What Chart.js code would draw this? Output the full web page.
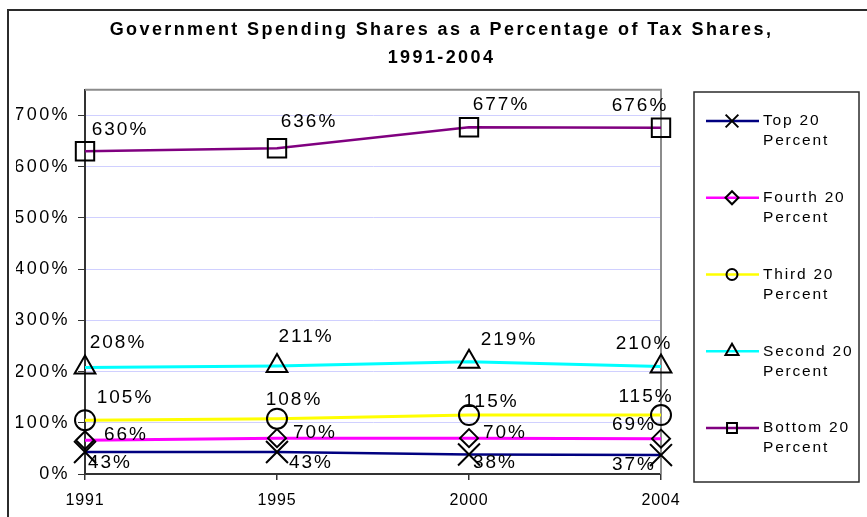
<!DOCTYPE html>
<html>
<head>
<meta charset="utf-8">
<title>Government Spending Shares as a Percentage of Tax Shares, 1991-2004</title>
<script src="https://cdn.jsdelivr.net/npm/chart.js@4.4.1/dist/chart.umd.min.js"></script>
<style>
  html, body { margin: 0; padding: 0; background: #ffffff; }
  canvas { display: block; }
</style>
</head>
<body>
<canvas id="chart" width="867" height="517"></canvas>
<script>
// Years on the horizontal axis
const years = ['1991', '1995', '2000', '2004'];

// Spending share as a percentage of tax share, by income quintile
const top20    = [43, 43, 38, 37];
const fourth20 = [66, 70, 70, 69];
const third20  = [105, 108, 115, 115];
const second20 = [208, 211, 219, 210];
const bottom20 = [630, 636, 677, 676];

// Key entries, two lines each
const quintileNames = [
  ['Top 20', 'Percent'],
  ['Fourth 20', 'Percent'],
  ['Third 20', 'Percent'],
  ['Second 20', 'Percent'],
  ['Bottom 20', 'Percent']
];

// Vertical axis ticks (percent)
const yTickValues = [0, 100, 200, 300, 400, 500, 600, 700];

// Where each value label sits relative to its point (dx, dy in px)
const labelNudges = [
  [[25, 11], [34, 11], [26, 8], [-27, 10]],
  [[41, -5], [38, -5], [36, -5], [-27, -14]],
  [[40, -22], [17, -19], [22, -13], [-15, -18]],
  [[33, -25], [29, -29], [40, -22], [-17, -23]],
  [[35, -22], [32, -26], [32, -22], [-21, -22]]
];

const FONT = '"Liberation Sans", Arial, Helvetica, sans-serif';

function markerSet(style, radius) {
  return {
    pointStyle: style,
    pointRadius: radius,
    pointHoverRadius: radius,
    pointBorderColor: '#000000',
    pointBackgroundColor: 'rgba(0,0,0,0)',
    pointBorderWidth: 2
  };
}

const datasets = [
  Object.assign({ label: quintileNames[0].join(' '), data: top20,    borderColor: '#000080', borderWidth: 2.5, legendRadius: 9 },   markerSet('crossRot', 15.5)),
  Object.assign({ label: quintileNames[1].join(' '), data: fourth20, borderColor: '#ff00ff', borderWidth: 3,   legendRadius: 6.5 }, markerSet('rectRot', 9)),
  Object.assign({ label: quintileNames[2].join(' '), data: third20,  borderColor: '#ffff00', borderWidth: 3,   legendRadius: 5.5 }, markerSet('circle', 10)),
  Object.assign({ label: quintileNames[3].join(' '), data: second20, borderColor: '#00ffff', borderWidth: 3,   legendRadius: 7.5 }, markerSet('triangle', 12)),
  Object.assign({ label: quintileNames[4].join(' '), data: bottom20, borderColor: '#800080', borderWidth: 2.5, legendRadius: 7 },   markerSet('rect', 13))
].map(d => Object.assign(d, { fill: false, tension: 0, clip: false, yAxisID: 'y' }));

// Wider character spacing for canvas text; the year labels are tighter
const letterSpacing = {
  id: 'letterSpacing',
  beforeUpdate(chart) { chart.ctx.letterSpacing = '2.4px'; },
  beforeLayout(chart) { chart.ctx.letterSpacing = '2.4px'; },
  afterLayout(chart) {
    const xs = chart.scales.x;
    if (xs && !xs._tightLabels) {
      const draw = xs.drawLabels.bind(xs);
      xs.drawLabels = function (area) {
        const ctx = chart.ctx;
        ctx.save();
        ctx.letterSpacing = '0.8px';
        draw(area);
        ctx.restore();
      };
      xs._tightLabels = true;
    }
  },
  beforeDraw(chart) { chart.ctx.letterSpacing = '2.4px'; }
};

// White page and the outer frame
const frame = {
  id: 'frame',
  beforeDraw(chart) {
    const ctx = chart.ctx;
    ctx.save();
    ctx.fillStyle = '#ffffff';
    ctx.fillRect(0, 0, chart.width, chart.height);
    ctx.strokeStyle = '#2b2b2b';
    ctx.lineWidth = 2;
    ctx.strokeRect(8, 10, chart.width + 20, chart.height + 20);
    ctx.restore();
  },
  beforeDatasetsDraw(chart) {
    const a = chart.chartArea;
    const ctx = chart.ctx;
    ctx.save();
    ctx.strokeStyle = '#8c8c8c';
    ctx.lineWidth = 2;
    ctx.beginPath();
    ctx.moveTo(a.left, a.top);
    ctx.lineTo(a.right, a.top);
    ctx.lineTo(a.right, a.bottom);
    ctx.stroke();
    ctx.restore();
  }
};

// Value labels next to each point
const valueLabels = {
  id: 'valueLabels',
  afterDatasetsDraw(chart) {
    const ctx = chart.ctx;
    ctx.save();
    ctx.letterSpacing = '2px';
    ctx.font = '19px ' + FONT;
    ctx.fillStyle = '#000000';
    ctx.textAlign = 'center';
    ctx.textBaseline = 'middle';
    chart.data.datasets.forEach((ds, i) => {
      const meta = chart.getDatasetMeta(i);
      meta.data.forEach((pt, j) => {
        const n = labelNudges[i][j];
        ctx.fillText(ds.data[j] + '%', pt.x + n[0], pt.y + n[1]);
      });
    });
    ctx.restore();
  }
};

// Boxed key on the right
const sideKey = {
  id: 'sideKey',
  afterDraw(chart) {
    const ctx = chart.ctx;
    const box = { left: 694, top: 92, right: 859, bottom: 482 };
    ctx.save();
    ctx.strokeStyle = '#2b2b2b';
    ctx.lineWidth = 1.5;
    ctx.strokeRect(box.left, box.top, box.right - box.left, box.bottom - box.top);
    ctx.font = '15.5px ' + FONT;
    ctx.letterSpacing = '1.8px';
    ctx.textAlign = 'left';
    ctx.textBaseline = 'middle';
    const firstY = 121;
    const step = 76.75;
    chart.data.datasets.forEach((ds, i) => {
      const y = firstY + i * step;
      ctx.strokeStyle = ds.borderColor;
      ctx.lineWidth = 2.5;
      ctx.beginPath();
      ctx.moveTo(706, y);
      ctx.lineTo(759, y);
      ctx.stroke();
      ctx.strokeStyle = '#000000';
      ctx.fillStyle = 'rgba(0,0,0,0)';
      ctx.lineWidth = 2;
      Chart.helpers.drawPoint(ctx, {
        pointStyle: ds.pointStyle, rotation: 0, radius: ds.legendRadius, borderWidth: 2
      }, 732, y);
      ctx.fillStyle = '#000000';
      quintileNames[i].forEach((line, k) => ctx.fillText(line, 763, y + k * 20));
    });
    ctx.restore();
  }
};

new Chart(document.getElementById('chart'), {
  type: 'line',
  data: { labels: years, datasets: datasets },
  options: {
    responsive: false,
    animation: false,
    devicePixelRatio: 1,
    events: [],
    layout: { padding: { left: 16, top: 0, right: 0, bottom: 0 } },
    plugins: {
      legend: { display: false },
      tooltip: { enabled: false },
      title: {
        display: true,
        text: ['Government Spending Shares as a Percentage of Tax Shares,', '1991-2004'],
        color: '#000000',
        font: { family: FONT, size: 18, weight: 'bold', lineHeight: 1.55 },
        padding: { top: 16, bottom: 18 }
      }
    },
    scales: {
      x: {
        type: 'category',
        offset: false,
        grid: { drawOnChartArea: false, drawTicks: true, tickLength: 6, tickColor: '#333333', lineWidth: 1.5 },
        border: { color: '#333333', width: 2 },
        ticks: { color: '#000000', font: { family: FONT, size: 16 }, padding: 11, maxRotation: 0, autoSkip: false },
        afterFit(scale) { scale.height = 43; }
      },
      y: {
        min: 0,
        max: 750,
        grid: { color: '#d0d0ff', lineWidth: 1, tickColor: '#333333', tickLength: 7 },
        border: { color: '#333333', width: 2 },
        ticks: {
          color: '#000000',
          font: { family: FONT, size: 18 },
          padding: 8,
          callback: v => v + '%'
        },
        afterBuildTicks(scale) { scale.ticks = yTickValues.map(v => ({ value: v })); },
        afterFit(scale) { scale.width = 69; }
      },
      // empty band on the right that holds the key
      keyBand: {
        type: 'linear',
        position: 'right',
        min: 0,
        max: 750,
        grid: { drawOnChartArea: false, drawTicks: false },
        border: { display: false },
        ticks: { display: false },
        afterFit(scale) { scale.width = 206; }
      }
    }
  },
  plugins: [letterSpacing, frame, valueLabels, sideKey]
});
</script>
</body>
</html>
